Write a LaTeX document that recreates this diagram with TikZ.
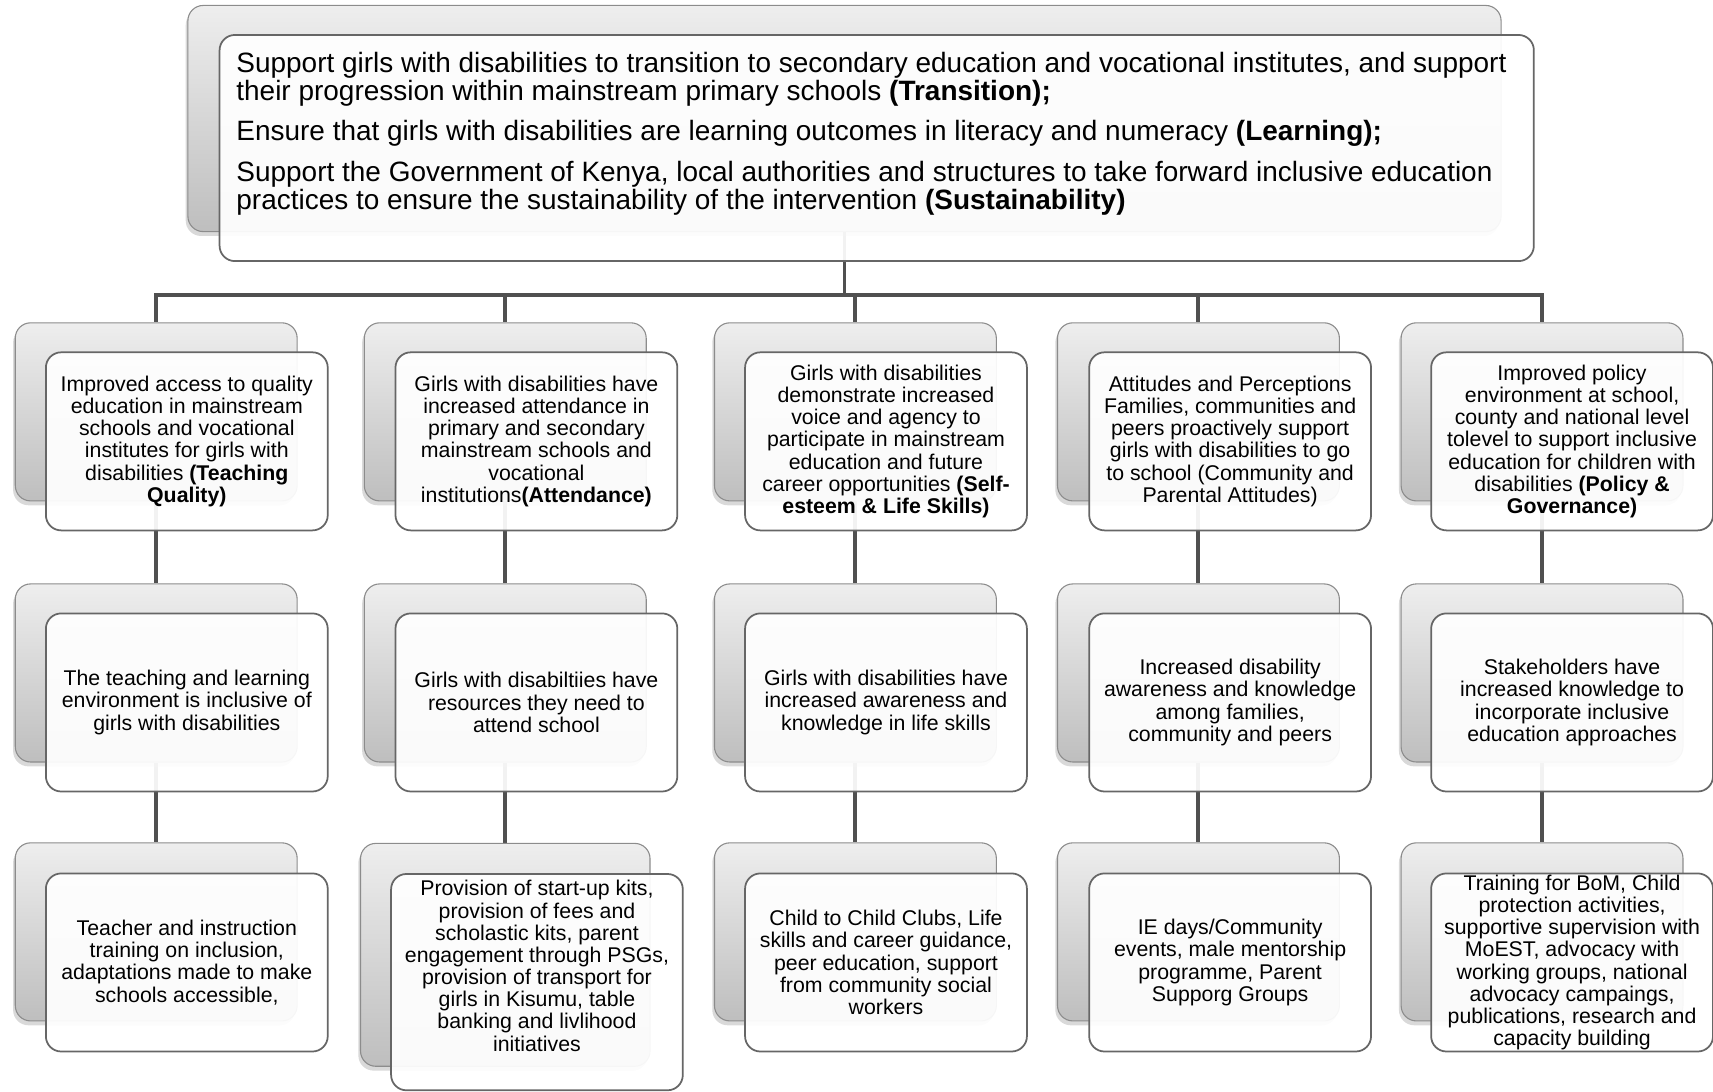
\documentclass[tikz,border=0pt]{standalone}
\usepackage{fontspec}
\setmainfont{Liberation Sans}
\usepackage{tikz}
\usetikzlibrary{shadows}
\usetikzlibrary{backgrounds}

\definecolor{linkgray}{HTML}{505050}
\definecolor{edgegray}{HTML}{666666}
\definecolor{shadetop}{HTML}{EEEEEE}
\definecolor{shadebot}{HTML}{BEBEBE}

\tikzset{
  backbox/.style={rounded corners=7pt, draw=black!45, line width=0.5pt,
    top color=shadetop, bottom color=shadebot, inner sep=0pt,
    minimum width=129pt, minimum height=81.5pt,
    drop shadow={shadow xshift=-1pt, shadow yshift=-2pt, opacity=0.3}},
  frontbox/.style={rounded corners=7pt, draw=edgegray, line width=0.8pt,
    fill=white, fill opacity=0.93, text opacity=1, inner sep=0pt,
    minimum width=129pt, minimum height=81.5pt, align=center,
    font=\fontsize{9.75}{10.15}\selectfont},
  link/.style={draw=linkgray, line width=1.8pt},
  elbow/.style={to path={-| (\tikztotarget)}}
}

\begin{document}
\begin{tikzpicture}[x=0.5pt, y=0.5pt]

      \useasboundingbox (0,0) rectangle (1568,-999);

      % shaded plates behind
      \begin{scope}[every node/.style={backbox}]
        \node[minimum width=601pt, minimum height=103.5pt] (goalbk) at (773,-108.5) {};
        \node (tq1s) at (143,-377) {};
        \node (att1s) at (462.5,-377) {};
        \node (sel1s) at (783,-377) {};
        \node (com1s) at (1097,-377) {};
        \node (pol1s) at (1411.5,-377) {};
        \node (tq2s) at (143,-616) {};
        \node (att2s) at (462.5,-616) {};
        \node (sel2s) at (783,-616) {};
        \node (com2s) at (1097,-616) {};
        \node (pol2s) at (1411.5,-616) {};
        \node (tq3s) at (143,-853) {};
        \node[minimum width=132.5pt, minimum height=102pt] (att3s) at (462.5,-874) {};
        \node (sel3s) at (783,-853) {};
        \node (com3s) at (1097,-853) {};
        \node (pol3s) at (1411.5,-853) {};
      \end{scope}

      \begin{scope}[every node/.style={frontbox}]
        \node[minimum width=601.5pt, minimum height=103.5pt] (goal) at (802.5,-135.5) {};
        \node (tq1) at (171,-404) {Improved access to quality\\education in mainstream\\schools and vocational\\institutes for girls with\\disabilities \textbf{(Teaching}\\\textbf{Quality)}};
        \node (att1) at (491,-404) {Girls with disabilities have\\increased attendance in\\primary and secondary\\mainstream schools and\\vocational\\institutions\textbf{(Attendance)}};
        \node (sel1) at (811,-404) {Girls with disabilities\\demonstrate increased\\voice and agency to\\participate in mainstream\\education and future\\career opportunities \textbf{(Self-}\\\textbf{esteem \& Life Skills)}};
        \node (com1) at (1126,-404) {Attitudes and Perceptions\\Families, communities and\\peers proactively support\\girls with disabilities to go\\to school (Community and\\Parental Attitudes)};
        \node (pol1) at (1439,-404) {Improved policy\\environment at school,\\county and national level\\tolevel to support inclusive\\education for children with\\disabilities \textbf{(Policy \&}\\\textbf{Governance)}};
        \node (tq2) at (171,-643) {The teaching and learning\\environment is inclusive of\\girls with disabilities};
        \node (att2) at (491,-643) {Girls with disabiltiies have\\resources they need to\\attend school};
        \node (sel2) at (811,-643) {Girls with disabilities have\\increased awareness and\\knowledge in life skills};
        \node (com2) at (1126,-643) {Increased disability\\awareness and knowledge\\among families,\\community and peers};
        \node (pol2) at (1439,-643) {Stakeholders have\\increased knowledge to\\incorporate inclusive\\education approaches};
        \node (tq3) at (171,-881) {Teacher and instruction\\training on inclusion,\\adaptations made to make\\schools accessible,};
        \node[minimum width=133.5pt, minimum height=99pt, text depth=15pt] (att3) at (491.5,-899) {Provision of start-up kits,\\provision of fees and\\scholastic kits, parent\\engagement through PSGs,\\provision of transport for\\girls in Kisumu, table\\banking and livlihood\\initiatives};
        \node (sel3) at (811,-881) {Child to Child Clubs, Life\\skills and career guidance,\\peer education, support\\from community social\\workers};
        \node (com3) at (1126,-881) {IE days/Community\\events, male mentorship\\programme, Parent\\Supporg Groups};
        \node (pol3) at (1439,-881) {Training for BoM, Child\\protection activities,\\supportive supervision with\\MoEST, advocacy with\\working groups, national\\advocacy campaings,\\publications, research and\\capacity building};
      \end{scope}

      \node[anchor=north west, inner sep=0pt, align=left,
        font=\fontsize{12.8}{13}\selectfont] (goaltext) at (216,-47)
        {Support girls with disabilities to transition to secondary education and vocational institutes, and support\\
         their progression within mainstream primary schools \textbf{(Transition);}\\[5.5pt]
         Ensure that girls with disabilities are learning outcomes in literacy and numeracy \textbf{(Learning);}\\[5.5pt]
         Support the Government of Kenya, local authorities and structures to take forward inclusive education\\
         practices to ensure the sustainability of the intervention \textbf{(Sustainability)}};

      \coordinate (bus) at (773,-270);

      \begin{scope}[on background layer]
        \path [link] (goalbk) edge (bus);
        \path [link] (bus) edge[elbow] (tq1s.north);
        \path [link] (bus) edge[elbow] (att1s.north);
        \path [link] (bus) edge[elbow] (sel1s.north);
        \path [link] (bus) edge[elbow] (com1s.north);
        \path [link] (bus) edge[elbow] (pol1s.north);
        \path [link] (tq1s) edge (tq2s);
        \path [link] (att1s) edge (att2s);
        \path [link] (sel1s) edge (sel2s);
        \path [link] (com1s) edge (com2s);
        \path [link] (pol1s) edge (pol2s);
        \path [link] (tq2s) edge (tq3s);
        \path [link] (att2s) edge (att3s);
        \path [link] (sel2s) edge (sel3s);
        \path [link] (com2s) edge (com3s);
        \path [link] (pol2s) edge (pol3s);
      \end{scope}
    \end{tikzpicture}
\end{document}
